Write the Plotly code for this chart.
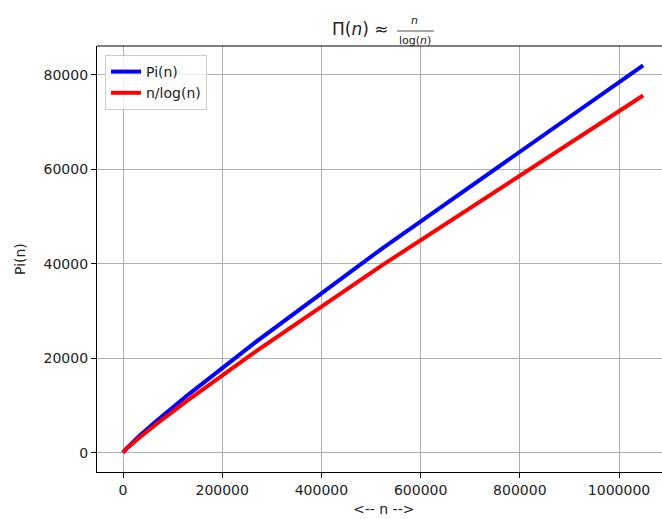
import plotly.graph_objects as go

n_values = [2, 4, 8, 16, 32, 64, 128, 256, 512, 1024, 2048, 4096, 8192, 16384,
            32768, 65536, 131072, 262144, 524288, 1048576]
pi_values = [1, 2, 4, 6, 11, 18, 31, 54, 97, 172, 309, 564, 1028, 1900,
             3512, 6542, 12251, 23000, 43390, 82025]
approx_values = [2.885, 2.885, 3.847, 5.771, 9.233, 15.39, 26.38, 46.17, 82.07,
                 147.7, 268.6, 492.4, 909.1, 1688.3, 3151.4, 5909.4, 11123.6,
                 21010.3, 39809.0, 75638.6]

W, H = 662, 519
ml, mr, mt, mb = 97, 0, 46, 47
font = "DejaVu Sans, sans-serif"

fig = go.Figure()
fig.add_trace(go.Scatter(x=n_values, y=pi_values, mode="lines", name="Pi(n)",
                         line=dict(color="#0000ff", width=4)))
fig.add_trace(go.Scatter(x=n_values, y=approx_values, mode="lines", name="n/log(n)",
                         line=dict(color="#ff0000", width=4)))

axis_common = dict(showgrid=True, gridcolor="#b0b0b0", gridwidth=1,
                   showline=True, linecolor="black", linewidth=1.2,
                   ticks="outside", ticklen=5, tickwidth=1, tickcolor="black",
                   tickfont=dict(family=font, size=14, color="#222"),
                   zeroline=False, tickformat="d")

fig.update_xaxes(range=[-52427, 1086600], dtick=200000, tick0=0, **axis_common)
fig.update_yaxes(range=[-4100, 86126], dtick=20000, tick0=0, **axis_common)

annotations = [
    dict(text="Π(<i>n</i>) ≈", x=360, y=29, size=17),
    dict(text="<i>n</i>", x=414, y=20, size=11),
    dict(text="log(<i>n</i>)", x=415, y=41, size=11),
    dict(text="Pi(n)", x=20, y=259, size=14, angle=-90),
    dict(text="&lt;-- n --&gt;", x=383, y=509, size=14),
]
pw, ph = W - ml - mr, H - mt - mb
ann_objs = []
for a in annotations:
    ann_objs.append(dict(
        text=a["text"], showarrow=False,
        x=(a["x"] - ml) / pw, y=(H - a["y"] - mb) / ph,
        xref="paper", yref="paper", xanchor="center", yanchor="middle",
        textangle=a.get("angle", 0),
        font=dict(family=font, size=a["size"], color="#222"),
    ))

shapes = [
    dict(type="line", xref="paper", yref="paper", x0=0, x1=1, y0=1, y1=1,
         line=dict(color="black", width=1.2)),
    dict(type="line", xref="paper", yref="paper",
         x0=(397 - ml) / pw, x1=(434 - ml) / pw,
         y0=(H - 31 - mb) / ph, y1=(H - 31 - mb) / ph,
         line=dict(color="#222", width=0.8)),
]

fig.update_layout(
    width=W, height=H,
    margin=dict(l=ml, r=mr, t=mt, b=mb, pad=0),
    plot_bgcolor="white", paper_bgcolor="white",
    showlegend=True,
    legend=dict(x=(105 - ml) / pw, y=1 - (55 - mt) / ph, xanchor="left", yanchor="top",
                bgcolor="rgba(255,255,255,0.8)", bordercolor="#cccccc", borderwidth=1,
                font=dict(family=font, size=14, color="#222"), tracegroupgap=0),
    annotations=ann_objs,
    shapes=shapes,
)

fig.write_html("out.html", config={"displayModeBar": False},
               post_script="document.body.style.margin='0';document.body.style.overflow='hidden';")
